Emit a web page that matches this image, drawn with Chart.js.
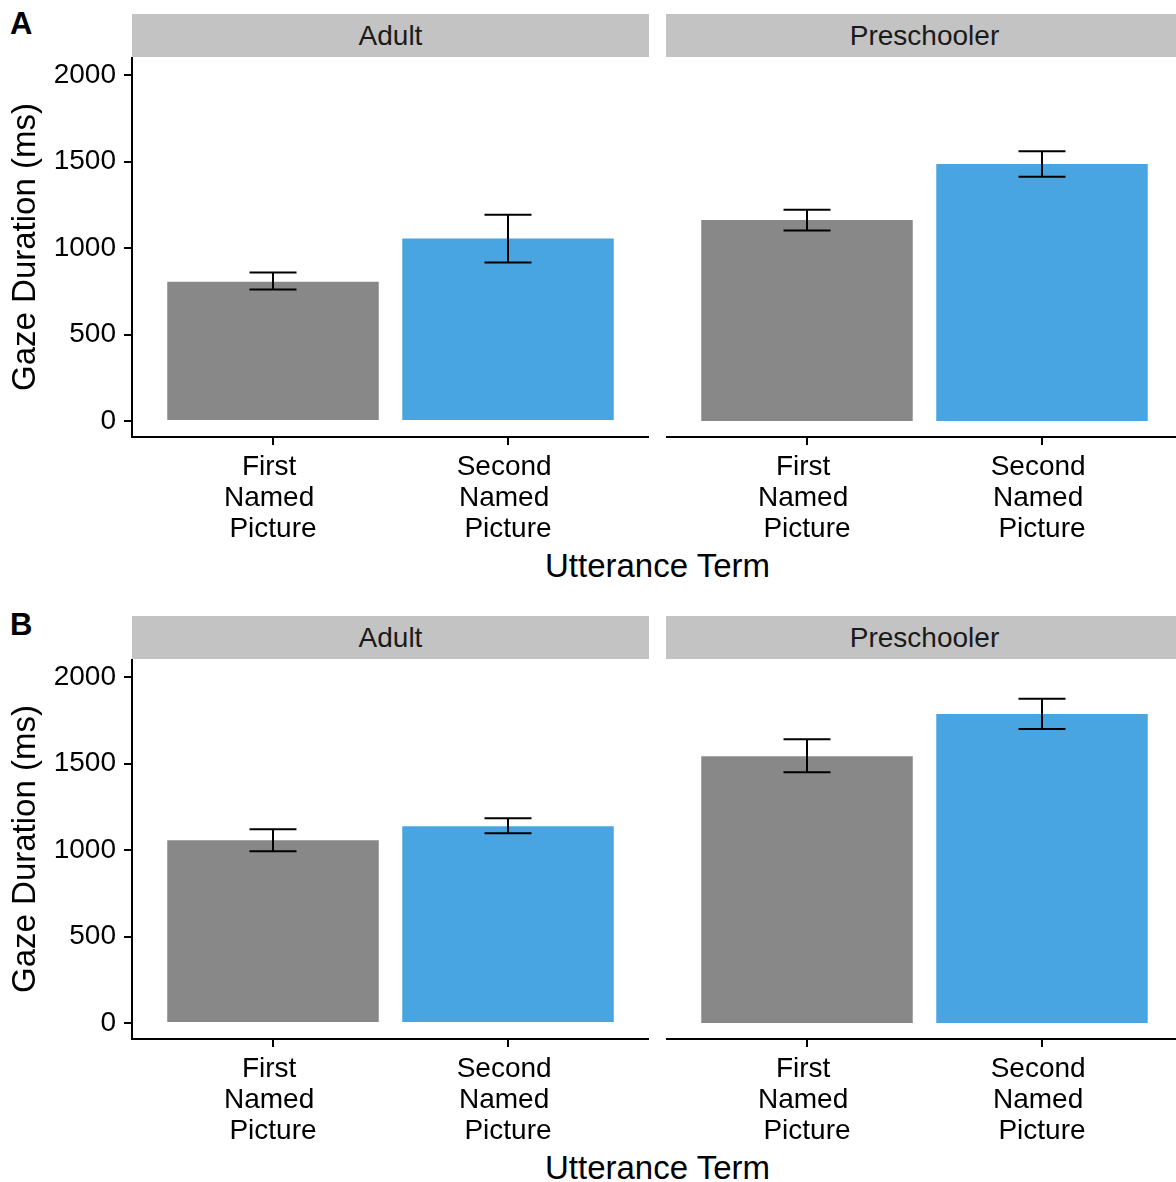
<!DOCTYPE html>
<html>
<head>
<meta charset="utf-8">
<title>Gaze Duration by Utterance Term</title>
<script src="https://cdn.jsdelivr.net/npm/chart.js@4/dist/chart.umd.min.js"></script>
<style>
  html, body { margin: 0; padding: 0; background: #fff; overflow: hidden; }
  body { width: 1176px; height: 1182px; position: relative;
         font-family: "Liberation Sans", Arial, Helvetica, sans-serif; color: #000; }
  .strip { position: absolute; height: 43px; width: 517px; background: #C3C3C3;
           display: flex; align-items: center; justify-content: center;
           font-size: 28px; line-height: 28px; color: #1a1a1a; }
  .tag { position: absolute; font-weight: bold; font-size: 31px; line-height: 31px; }
  .xtitle { position: absolute; left: 132px; width: 1051px; text-align: center;
            font-size: 33px; line-height: 33px; }
  canvas { position: absolute; }
</style>
</head>
<body>

<div class="tag" style="left:10px; top:8px;">A</div>
<div class="strip" style="left:132px; top:14px;" id="stripA0"></div>
<div class="strip" style="left:666px; top:14px;" id="stripA1"></div>
<canvas id="chartA0" width="649" height="490" style="left:0px; top:57px;"></canvas>
<canvas id="chartA1" width="517" height="490" style="left:666px; top:57px;"></canvas>
<div class="xtitle" style="top:549px;">Utterance Term</div>

<div class="tag" style="left:10px; top:609px;">B</div>
<div class="strip" style="left:132px; top:616px;" id="stripB0"></div>
<div class="strip" style="left:666px; top:616px;" id="stripB1"></div>
<canvas id="chartB0" width="649" height="490" style="left:0px; top:659px;"></canvas>
<canvas id="chartB1" width="517" height="490" style="left:666px; top:659px;"></canvas>
<div class="xtitle" style="top:1151px;">Utterance Term</div>

<script>
// Facet groups and utterance terms
const groups = ['Adult', 'Preschooler'];
const termLabels = ['First \nNamed \nPicture', 'Second \nNamed \nPicture'];
const yTicks = [0, 500, 1000, 1500, 2000];

// Panel A: mean gaze duration (ms) with error-bar bounds
const meanA_Adult = [805, 1055];
const lowA_Adult  = [761, 917];
const highA_Adult = [859, 1193];
const meanA_Pre   = [1162, 1486];
const lowA_Pre    = [1102, 1412];
const highA_Pre   = [1221, 1559];

// Panel B: mean gaze duration (ms) with error-bar bounds
const meanB_Adult = [1057, 1137];
const lowB_Adult  = [993, 1097];
const highB_Adult = [1120, 1184];
const meanB_Pre   = [1542, 1786];
const lowB_Pre    = [1449, 1700];
const highB_Pre   = [1640, 1875];

const barColors = ['#888888', '#49A4E2'];

Chart.defaults.font.family = '"Liberation Sans", Arial, Helvetica, sans-serif';
Chart.defaults.color = '#000';

// Error bars drawn through the chart's own scales
const errorBars = {
  id: 'errorBars',
  afterDatasetsDraw(chart, args, opts) {
    const xs = chart.scales.x, ys = chart.scales.y, ctx = chart.ctx;
    ctx.save();
    ctx.strokeStyle = '#000';
    ctx.lineWidth = 2;
    opts.low.forEach((lo, i) => {
      const xv = i + 1;
      const x = xs.getPixelForValue(xv);
      const xl = xs.getPixelForValue(xv - opts.cap);
      const xr = xs.getPixelForValue(xv + opts.cap);
      const yl = ys.getPixelForValue(lo);
      const yh = ys.getPixelForValue(opts.high[i]);
      ctx.beginPath();
      ctx.moveTo(x, yl); ctx.lineTo(x, yh);
      ctx.moveTo(xl, yl); ctx.lineTo(xr, yl);
      ctx.moveTo(xl, yh); ctx.lineTo(xr, yh);
      ctx.stroke();
    });
    ctx.restore();
  }
};

function makeFacet(id, means, lows, highs, showY) {
  return new Chart(document.getElementById(id), {
    type: 'bar',
    data: {
      datasets: [{
        data: means.map((m, i) => ({ x: i + 1, y: m })),
        backgroundColor: barColors,
        borderWidth: 0,
        categoryPercentage: 0.9,
        barPercentage: 1.0
      }]
    },
    plugins: [errorBars],
    options: {
      responsive: false,
      animation: false,
      devicePixelRatio: 1,
      layout: { padding: 0, autoPadding: false },
      plugins: {
        legend: { display: false },
        tooltip: { enabled: false },
        errorBars: { low: lows, high: highs, cap: 0.1 }
      },
      scales: {
        x: {
          type: 'linear',
          min: 0.4, max: 2.6,
          offset: false,
          afterBuildTicks: (s) => { s.ticks = termLabels.map((t, i) => ({ value: i + 1 })); },
          afterFit: (s) => { s.height = 110; s.paddingLeft = 0; s.paddingRight = 0; },
          ticks: {
            autoSkip: false, maxRotation: 0, minRotation: 0,
            padding: 7,
            color: '#000',
            font: { size: 28, lineHeight: 1.1 },
            callback: (v) => termLabels[Math.round(v) - 1].split('\n')
          },
          grid: { display: true, offset: false, drawOnChartArea: false, drawTicks: true,
                  tickLength: 8, color: '#000', lineWidth: 2 },
          border: { display: true, color: '#000', width: 2 }
        },
        y: {
          display: showY,
          min: -92, max: 2104,
          afterBuildTicks: (s) => { s.ticks = yTicks.map(v => ({ value: v })); },
          afterFit: (s) => { s.width = showY ? 132 : 0; s.paddingTop = 0; s.paddingBottom = 0; },
          ticks: { padding: 8, color: '#000', font: { size: 28 },
                   callback: (v) => String(v) },
          grid: { display: true, offset: false, drawOnChartArea: false, drawTicks: true,
                  tickLength: 8, color: '#000', lineWidth: 2 },
          border: { display: true, color: '#000', width: 2 },
          title: { display: true, text: 'Gaze Duration (ms)', color: '#000',
                   font: { size: 33 }, padding: { top: 6, bottom: 0 } }
        }
      }
    }
  });
}

document.getElementById('stripA0').textContent = groups[0];
document.getElementById('stripA1').textContent = groups[1];
document.getElementById('stripB0').textContent = groups[0];
document.getElementById('stripB1').textContent = groups[1];

makeFacet('chartA0', meanA_Adult, lowA_Adult, highA_Adult, true);
makeFacet('chartA1', meanA_Pre, lowA_Pre, highA_Pre, false);
makeFacet('chartB0', meanB_Adult, lowB_Adult, highB_Adult, true);
makeFacet('chartB1', meanB_Pre, lowB_Pre, highB_Pre, false);
</script>
</body>
</html>
